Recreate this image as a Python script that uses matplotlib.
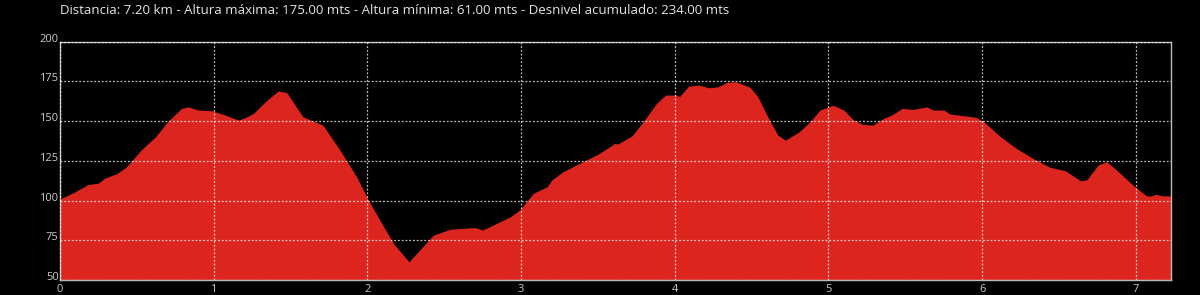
import matplotlib.pyplot as plt

# elevation profile (km, metres)
km = [0.0, 0.10, 0.18, 0.25, 0.29, 0.37, 0.43, 0.53, 0.62, 0.70, 0.79, 0.835, 0.90,
      0.99, 1.07, 1.16, 1.20, 1.26, 1.345, 1.42, 1.475, 1.58, 1.71, 1.82, 1.93, 2.0,
      2.08, 2.17, 2.27, 2.43, 2.54, 2.70, 2.75, 2.93, 2.99, 3.08, 3.17, 3.20, 3.27,
      3.38, 3.51, 3.61, 3.63, 3.72, 3.795, 3.88, 3.94, 4.01, 4.03, 4.09, 4.16, 4.22,
      4.28, 4.34, 4.40, 4.49, 4.54, 4.61, 4.67, 4.72, 4.81, 4.88, 4.945, 5.03, 5.10,
      5.16, 5.22, 5.29, 5.36, 5.41, 5.48, 5.55, 5.64, 5.68, 5.75, 5.79, 5.90, 5.96,
      6.01, 6.12, 6.22, 6.33, 6.44, 6.54, 6.64, 6.68, 6.755, 6.81, 6.875, 6.98, 7.07,
      7.10, 7.13, 7.17, 7.227]
elev = [101, 105.6, 110, 111, 114, 117, 121, 132, 140, 149.6, 158, 159, 157,
        156.5, 154, 150.7, 152, 155, 163, 169, 168, 152.8, 147.5, 132, 115, 101.4,
        87.8, 73, 61.5, 78.3, 82, 83, 81.5, 89.8, 94, 104.6, 108.7, 113, 118,
        123.4, 129.7, 136, 135.6, 140.6, 149.6, 161, 166.4, 166.4, 165.3, 172, 172.7, 171,
        171.6, 174.4, 174.8, 171.3, 165.4, 151.8, 141.3, 138, 143.3, 149.6, 157, 160, 157,
        151, 148, 147.5, 151.8, 153.8, 158, 157.4, 159, 157, 157, 154.5, 153.2, 152.4,
        149.6, 140.2, 133, 126.6, 121, 118.8, 112.5, 113, 122.4, 124.5, 119.2, 109.8, 102.9,
        102.9, 104, 103, 102.9]

x_ticks = [0, 1, 2, 3, 4, 5, 6, 7]
y_ticks = [50, 75, 100, 125, 150, 175, 200]
title = ('Distancia: 7.20 km - Altura máxima: 175.00 mts - Altura mínima: 61.00 mts'
         ' - Desnivel acumulado: 234.00 mts')

plt.rcParams['font.family'] = ['Open Sans', 'DejaVu Sans']

fig = plt.figure(figsize=(12, 2.95), dpi=100, facecolor='black')
ax = fig.add_axes([0.05, 0.0508, 0.9256, 0.8078], facecolor='black')

ax.fill_between(km, elev, 50, color='#dd251f', linewidth=0)

ax.set_xlim(0, km[-1])
ax.set_ylim(50, 200)
ax.set_xticks(x_ticks)
ax.set_yticks(y_ticks)
ax.set_xticklabels([str(v) for v in x_ticks])
ax.set_yticklabels([])
for v in y_ticks:
    ax.annotate(str(v), xy=(0, v), xycoords=('axes fraction', 'data'),
                xytext=(-1, 0), textcoords='offset points',
                ha='right', va='baseline', color='#cccccc', fontsize=8)

ax.tick_params(axis='both', length=0, colors='#cccccc', labelsize=8)
ax.tick_params(axis='x', pad=3)
for s in ax.spines.values():
    s.set_color('#bbbbbb')
    s.set_linewidth(1)

ax.set_axisbelow(False)
ax.grid(True, color='white', alpha=0.75, linestyle=(0, (1.5, 1.5)), linewidth=0.9)

fig.text(60 / 1200, 1 - 11 / 295, title, color='#e6e6e6', fontsize=9.5,
         ha='left', va='center')

fig.savefig('out.png', dpi=100, facecolor='black')
